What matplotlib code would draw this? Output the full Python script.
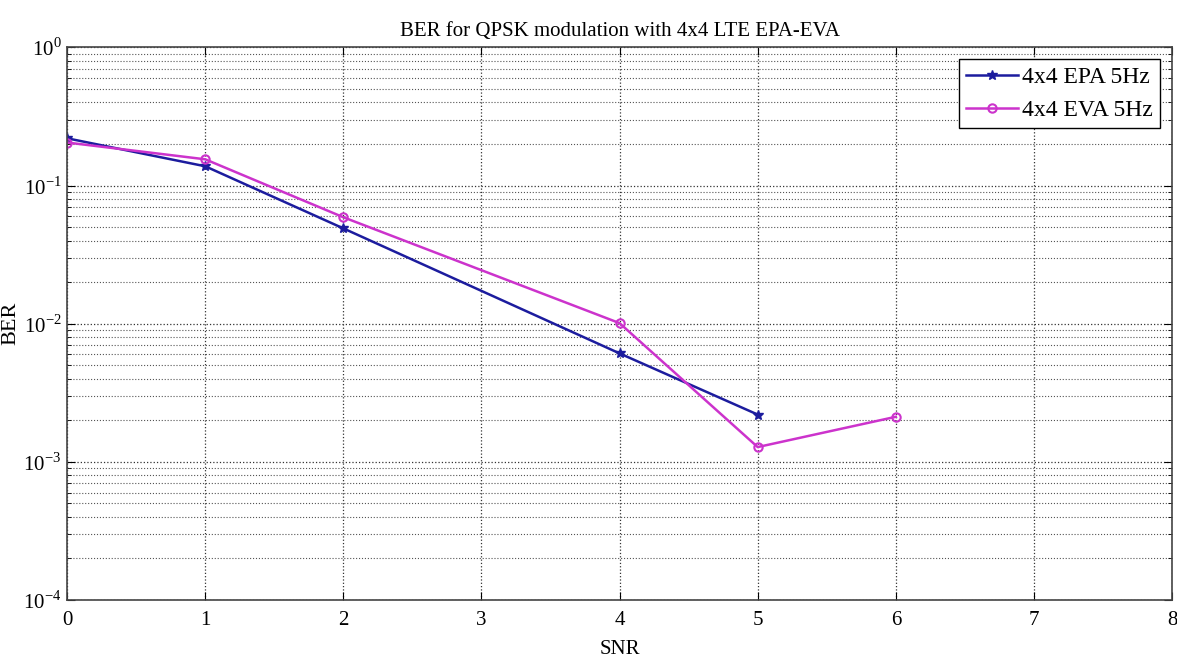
import matplotlib
matplotlib.use("Agg")
import matplotlib.pyplot as plt
from matplotlib.ticker import LogLocator, NullFormatter, FuncFormatter
import math

plt.rcParams['font.family'] = ['Liberation Serif', 'DejaVu Serif']
plt.rcParams['mathtext.fontset'] = 'custom'
plt.rcParams['mathtext.rm'] = 'Liberation Serif'

snr_epa = [0, 1, 2, 4, 5]
ber_epa = [0.22, 0.138, 0.049, 0.0061, 0.0022]
snr_eva = [0, 1, 2, 4, 5, 6]
ber_eva = [0.205, 0.155, 0.059, 0.0101, 0.00128, 0.00212]

title = "BER for QPSK modulation with 4x4 LTE EPA-EVA"
xlabel = "SNR"
ylabel = "BER"
labels = ["4x4 EPA 5Hz", "4x4 EVA 5Hz"]

fig = plt.figure(figsize=(11.77, 6.59), dpi=100)
ax = fig.add_axes([0.057, 0.0895, 0.9388, 0.8385])

ax.plot(snr_epa, ber_epa, '-', color='#1c1c9e', lw=1.8, marker='*', ms=7, label=labels[0])
ax.plot(snr_eva, ber_eva, '-', color='#cc33cc', lw=1.8, marker='o', ms=6,
        markerfacecolor='none', markeredgewidth=1.5, label=labels[1])

ax.set_yscale('log')
ax.set_xlim(0, 8)
ax.set_ylim(1e-4, 1)
ax.set_xticks(range(0, 9))
ax.yaxis.set_major_locator(LogLocator(base=10, numticks=10))
ax.yaxis.set_major_formatter(FuncFormatter(
    lambda v, p: r'10$^{\mathregular{%d}}$' % round(math.log10(v))))
ax.yaxis.set_minor_locator(LogLocator(base=10, subs=range(2, 10), numticks=10))
ax.yaxis.set_minor_formatter(NullFormatter())

ax.grid(True, which='major', linestyle=':', color='#333333', lw=0.9)
ax.grid(True, which='minor', axis='y', linestyle=':', color='#555555', lw=0.8)
ax.tick_params(which='both', direction='in', top=True, right=True, labelsize=15)
ax.tick_params(which='major', length=6)
ax.tick_params(which='minor', length=3)
ax.tick_params(axis='x', pad=8)
ax.tick_params(axis='y', pad=4)
for s in ax.spines.values():
    s.set_color('#444444')
    s.set_linewidth(1.2)

ax.set_title(title, fontsize=15, pad=8)
ax.set_xlabel(xlabel, fontsize=15)
ax.set_ylabel(ylabel, fontsize=16)
ax.xaxis.set_label_coords(0.5, -0.072)
ax.yaxis.set_label_coords(-0.042, 0.5)

leg = ax.legend(loc='upper right', fontsize=17, fancybox=False, framealpha=1,
                edgecolor='black', borderaxespad=0.5, handlelength=2.2,
                handletextpad=0.2, borderpad=0.3, labelspacing=0.5)
leg.get_frame().set_linewidth(1.0)

fig.savefig('out.png', dpi=100)
